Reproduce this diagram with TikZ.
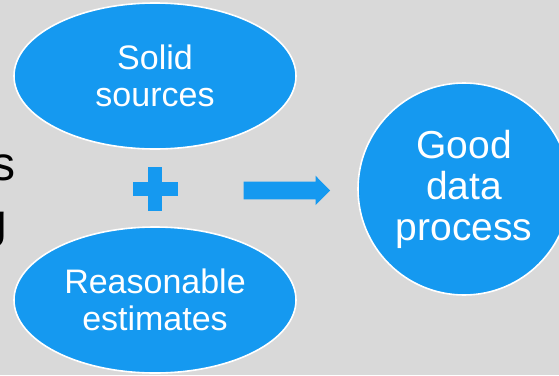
\documentclass[tikz,border=0pt]{standalone}
\usepackage{fontspec}
\setmainfont{Liberation Sans}
\usetikzlibrary{shapes.geometric}
\definecolor{bgc}{RGB}{217,217,217}
\definecolor{blu}{RGB}{21,153,240}
\begin{document}
\begin{tikzpicture}[x=1pt,y=-1pt,
  blob/.style={ellipse, fill=blu, draw=white, line width=1.6pt, text=white, inner sep=0pt, align=center,
    minimum width=282pt, minimum height=146pt, font=\fontsize{34}{37}\selectfont},
  roundblob/.style={circle, fill=blu, draw=white, line width=1.6pt, text=white, inner sep=0pt, align=center,
    minimum size=212pt, font=\fontsize{39}{41}\selectfont},
  cut/.style={anchor=base east, inner sep=0pt, text=black, font=\fontsize{48}{48}\selectfont}]
\useasboundingbox (0,0) rectangle (559,375);
\clip (0,0) rectangle (559,375);
\fill[bgc] (0,0) rectangle (559,375);
\node[cut] (s) at (15.5,180) {s};
\node[cut] (g) at (7,237) {g};
\node[blob] (solid) at (155,76) {Solid\\sources};
\node[blob] (reas) at (155,300) {Reasonable\\estimates};
\node[roundblob] (good) at (464,189) {Good\\data\\process};
\fill[blu] (132.7,182) rectangle (178,196);
\fill[blu] (147.7,166.7) rectangle (162.3,211);
\fill[blu] (243.5,181.7) -- (315.5,181.7) -- (315.5,175.7) -- (330,190.5) -- (315.5,205) -- (315.5,199.3) -- (243.5,199.3) -- cycle;
\end{tikzpicture}
\end{document}
